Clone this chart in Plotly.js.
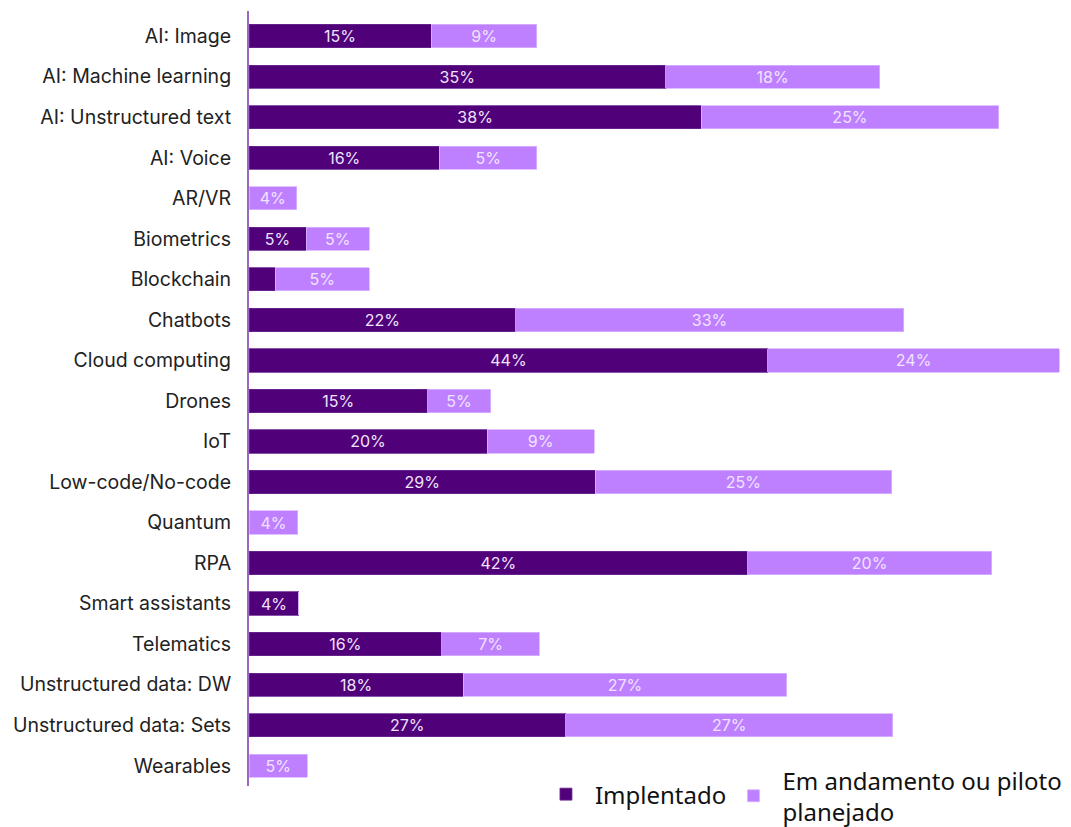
<!DOCTYPE html>
<html>
<head>
<meta charset="utf-8">
<script src="https://cdn.plot.ly/plotly-3.0.1.min.js"></script>
<style>
  html, body { margin: 0; padding: 0; background: #ffffff; }
  #chart { width: 1071px; height: 827px; }
</style>
</head>
<body>
<div id="chart"></div>
<script>
// Categories (top to bottom)
const categories = [
  "AI: Image", "AI: Machine learning", "AI: Unstructured text", "AI: Voice",
  "AR/VR", "Biometrics", "Blockchain", "Chatbots", "Cloud computing",
  "Drones", "IoT", "Low-code/No-code", "Quantum", "RPA",
  "Smart assistants", "Telematics", "Unstructured data: DW",
  "Unstructured data: Sets", "Wearables"
];

// Bar lengths (percent) as drawn in the picture
const implementado = [15.3, 35.0, 38.0, 16.0, 0, 4.8, 2.2, 22.4, 43.6, 15.0, 20.0, 29.1, 0, 41.9, 4.2, 16.2, 18.0, 26.6, 0];
const emAndamento  = [8.9, 18.0, 25.0, 8.2, 4.0, 5.3, 7.9, 32.6, 24.5, 5.3, 9.0, 24.9, 4.1, 20.5, 0, 8.2, 27.2, 27.5, 4.9];

// Printed labels on the bars
const implLabels  = ["15%", "35%", "38%", "16%", "", "5%", "", "22%", "44%", "15%", "20%", "29%", "", "42%", "4%", "16%", "18%", "27%", ""];
const pilotLabels = ["9%", "18%", "25%", "5%", "4%", "5%", "5%", "33%", "24%", "5%", "9%", "25%", "4%", "20%", "", "7%", "27%", "27%", "5%"];

const seriesNames = ["Implentado", "Em andamento ou piloto<br>planejado"];

const labelFont = { family: "Inter, 'Noto Sans', sans-serif", size: 16, color: "#efe4ff" };
const legendFont = { family: "'Noto Sans', 'Open Sans', sans-serif", size: 24, color: "#111111" };

const traces = [
  {
    type: "bar", orientation: "h",
    name: seriesNames[0],
    legend: "legend",
    y: categories, x: implementado,
    text: implLabels, textposition: "inside", insidetextanchor: "middle",
    textfont: labelFont, constraintext: "none",
    marker: { color: "#500078", line: { color: "#6a2a92", width: 0.8 } },
    hoverinfo: "skip"
  },
  {
    type: "bar", orientation: "h",
    name: seriesNames[1],
    legend: "legend2",
    y: categories, x: emAndamento,
    text: pilotLabels, textposition: "inside", insidetextanchor: "middle",
    textfont: labelFont, constraintext: "none",
    marker: { color: "#bf80ff", line: { color: "#d8b4ff", width: 0.8 } },
    hoverinfo: "skip"
  }
];

const layout = {
  width: 1071, height: 827,
  margin: { l: 249, r: 6, t: 11, b: 41, autoexpand: false },
  paper_bgcolor: "#ffffff", plot_bgcolor: "#ffffff",
  barmode: "stack",
  bargap: 0.425,
  showlegend: true,
  font: { family: "Inter, 'Noto Sans', sans-serif", color: "#222222" },
  xaxis: {
    visible: false, range: [0, 68.57], fixedrange: true
  },
  yaxis: {
    type: "category",
    range: [18.5, -0.62],
    showgrid: false, zeroline: false,
    showline: true, linecolor: "#9a68c0", linewidth: 2,
    ticks: "outside", ticklen: 12, tickcolor: "rgba(0,0,0,0)",
    tickfont: { family: "Inter, 'Noto Sans', sans-serif", size: 19.5, color: "#222222" },
    fixedrange: true
  },
  legend: {
    orientation: "h",
    x: 0.3529, xanchor: "left",
    y: 0.018, yanchor: "top",
    font: legendFont,
    itemwidth: 48,
    bgcolor: "rgba(255,255,255,0)",
    valign: "middle"
  },
  legend2: {
    orientation: "h",
    x: 0.5827, xanchor: "left",
    y: 0.036, yanchor: "top",
    font: legendFont,
    itemwidth: 48,
    bgcolor: "rgba(255,255,255,0)",
    valign: "middle"
  }
};

Plotly.newPlot("chart", traces, layout, { displayModeBar: false, staticPlot: true });
</script>
</body>
</html>
